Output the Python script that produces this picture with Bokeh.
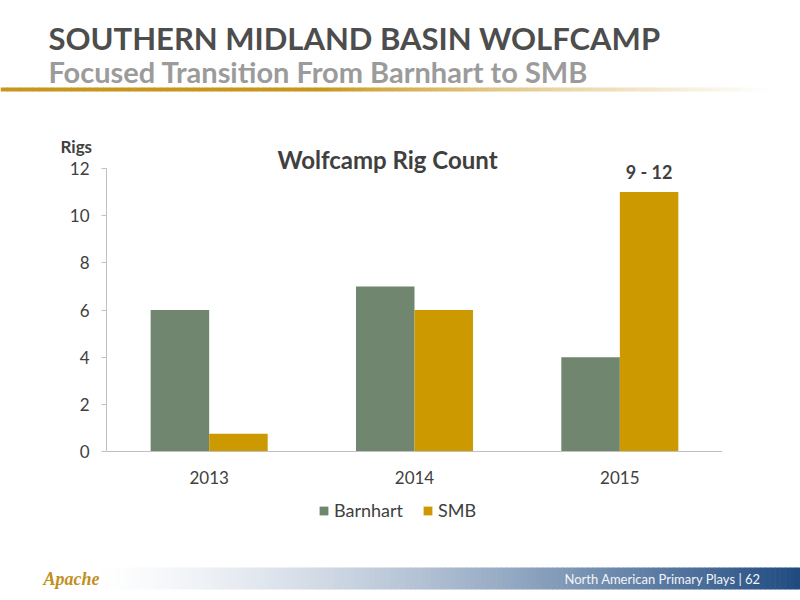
from bokeh.plotting import figure
from bokeh.models import (FactorRange, Range1d, Label, Legend, LegendItem,
                          ColumnDataSource, FixedTicker)
from bokeh.transform import dodge
from bokeh.embed import file_html
from bokeh.resources import INLINE

# ---- data ----
years = ["2013", "2014", "2015"]
barnhart = [6, 7, 4]
smb = [0.75, 6, 11]
series_names = ["Barnhart", "SMB"]
y_ticks = [0, 2, 4, 6, 8, 10, 12]
y_max = 12
smb_2015_label = "9 - 12"

# ---- styling ----
C_BARN = "#71866f"
C_SMB = "#cc9a00"
C_TEXT = "#404040"
C_AXIS = "#c0c0c0"
FONT = "Lato"
W, H = 800, 600
# chart frame (page pixels); the x axis sits at Y0, the 12 tick at Y12
FL, FR, FT, FB = 106, 722, 130, 535
Y0, Y12 = 451, 168
BAR_W = 0.285
OFF = BAR_W / 2


def lerp_color(c0, c1, t):
    a = [int(c0[i:i + 2], 16) for i in (1, 3, 5)]
    b = [int(c1[i:i + 2], 16) for i in (1, 3, 5)]
    return "#%02x%02x%02x" % tuple(round(a[k] + (b[k] - a[k]) * t) for k in range(3))


# ================= background slide (full-frame figure, page coordinates) =================
bg = figure(width=W, height=H, x_range=Range1d(0, W), y_range=Range1d(H, 0),
            x_axis_type=None, y_axis_type=None, output_backend="svg",
            toolbar_location=None, min_border=0)
bg.outline_line_color = None
bg.grid.visible = False
bg.background_fill_color = "white"
bg.border_fill_color = "white"

# gold rule under the header (solid, then fading to white)
n = 120
x0, x1 = 0, 770
gl, gr, gc = [], [], []
for i in range(n):
    a = x0 + (x1 - x0) * i / n
    b = x0 + (x1 - x0) * (i + 1) / n
    t = (i + 0.5) / n
    f = 0.0 if t < 0.42 else min(1.0, (t - 0.42) / 0.58)
    gl.append(a)
    gr.append(b + 0.6)
    gc.append(lerp_color("#c8961c", "#ffffff", f ** 0.8))
bg.quad(left=gl, right=gr, top=[87] * n, bottom=[91] * n, fill_color=gc, line_color=None)

# footer gradient bar
n = 140
x0, x1 = 90, 800
fl, fr, fc = [], [], []
for i in range(n):
    a = x0 + (x1 - x0) * i / n
    b = x0 + (x1 - x0) * (i + 1) / n
    t = (i + 0.5) / n
    fl.append(a)
    fr.append(b + 0.6)
    fc.append(lerp_color("#ffffff", "#1f4a80", t ** 1.4))
bg.quad(left=fl, right=fr, top=[567] * n, bottom=[589] * n, fill_color=fc, line_color=None)


def txt(x, y, s, size, color, style="bold", align="left", font=FONT):
    bg.add_layout(Label(x=x, y=y, text=s, text_font=font, text_font_style=style,
                        text_font_size=size, text_color=color, text_align=align,
                        text_baseline="middle"))


txt(48, 37, "SOUTHERN MIDLAND BASIN WOLFCAMP", "31px", "#4d4d4d")
txt(48, 71, "Focused Transition From Barnhart to SMB", "29px", "#9b9b9b")
txt(387, 159, "Wolfcamp Rig Count", "24px", C_TEXT, align="center")
txt(60, 146, "Rigs", "17px", C_TEXT)
txt(564, 578, "North American Primary Plays | 62", "13px", "#f2f5f9", style="normal")
txt(43, 578, "Apache", "18px", "#c0901e", style="bold italic", font="Liberation Serif")

# ================= chart (transparent, overlaid on the slide) =================
px_per_unit = (Y0 - Y12) / y_max
p = figure(width=W, height=H,
           x_range=FactorRange(*years, range_padding=0),
           y_range=Range1d(-(FB - Y0) / px_per_unit, y_max + (Y12 - FT) / px_per_unit),
           output_backend="svg", toolbar_location=None,
           min_border_left=FL, min_border_right=W - FR,
           min_border_top=FT, min_border_bottom=H - FB,
           styles={"margin-top": "-%dpx" % H})
p.outline_line_color = None
p.background_fill_alpha = 0
p.border_fill_alpha = 0
p.xgrid.grid_line_color = None
p.ygrid.grid_line_color = None

src = ColumnDataSource(dict(year=years, barnhart=barnhart, smb=smb))
r1 = p.vbar(x=dodge("year", -OFF, range=p.x_range), top="barnhart", width=BAR_W,
            source=src, fill_color=C_BARN, line_color=None)
r2 = p.vbar(x=dodge("year", OFF, range=p.x_range), top="smb", width=BAR_W,
            source=src, fill_color=C_SMB, line_color=None)

p.yaxis.ticker = FixedTicker(ticks=y_ticks)
p.yaxis.bounds = (0, y_max)
p.yaxis.axis_line_color = C_AXIS
p.yaxis.major_tick_line_color = C_AXIS
p.yaxis.major_tick_out = 5
p.yaxis.major_tick_in = 0
p.yaxis.minor_tick_line_color = None
p.yaxis.major_label_text_font = FONT
p.yaxis.major_label_text_font_size = "17px"
p.yaxis.major_label_text_color = C_TEXT
p.yaxis.major_label_standoff = 12

p.xaxis.fixed_location = 0
p.xaxis.axis_line_color = C_AXIS
p.xaxis.major_tick_line_color = None
p.xaxis.major_tick_out = 0
p.xaxis.major_tick_in = 0
p.xaxis.minor_tick_line_color = None
p.xaxis.major_label_text_font = FONT
p.xaxis.major_label_text_font_size = "17px"
p.xaxis.major_label_text_color = C_TEXT
p.xaxis.major_label_standoff = 19

legend = Legend(items=[LegendItem(label=series_names[0], renderers=[r1]),
                       LegendItem(label=series_names[1], renderers=[r2])],
                orientation="horizontal", location=(322 - FL - 4, 14),
                glyph_width=11, glyph_height=11, label_text_font=FONT,
                label_text_font_size="18px", label_text_color=C_TEXT,
                label_standoff=5, spacing=19, padding=4, margin=0,
                border_line_color=None, background_fill_alpha=0)
p.add_layout(legend, "center")

# note above the 2015 SMB bar (categorical synthetic coordinate of that bar's centre)
i15 = years.index("2015")
p.add_layout(Label(x=i15 + 0.5 + OFF, y=smb[i15], x_units="data", y_units="data",
                   text=smb_2015_label, text_font=FONT, text_font_style="bold",
                   text_font_size="18px", text_color=C_TEXT, text_align="center",
                   text_baseline="middle", y_offset=20))

open("out.html", "w").write(file_html([bg, p], INLINE))
